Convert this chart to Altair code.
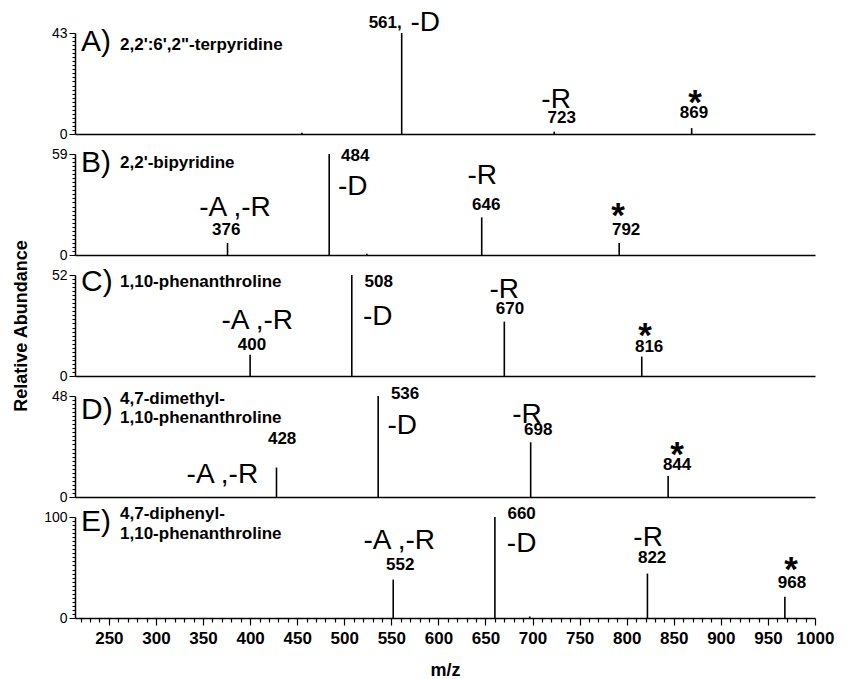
import altair as alt
import pandas as pd

FONT = "Liberation Sans"

mz_range = [214, 1000]
panel_ids = ["A)", "B)", "C)", "D)", "E)"]
panel_names = [
    ["2,2':6',2\"-terpyridine"],
    ["2,2'-bipyridine"],
    ["1,10-phenanthroline"],
    ["4,7-dimethyl-", "1,10-phenanthroline"],
    ["4,7-diphenyl-", "1,10-phenanthroline"],
]
panel_max = [43, 59, 52, 48, 100]

# peaks (m/z, relative abundance on each panel's own scale)
peak_mz = [
    [455, 561, 723, 869],
    [376, 484, 524, 646, 792],
    [400, 508, 670, 816],
    [428, 536, 698, 844],
    [552, 660, 697, 822, 968],
]
peak_int = [
    [0.5, 43, 1.0, 2.5],
    [7, 59, 0.8, 22, 7],
    [11, 52, 28, 10],
    [14, 48, 26, 10],
    [38, 100, 1.5, 44, 21],
]

# annotations: text, anchor m/z, anchor abundance, kind
ann_text = [
    ["561,", "-D", "-R", "723", "*", "869"],
    ["484", "-D", "-A ,-R", "376", "-R", "646", "*", "792"],
    ["508", "-D", "-A ,-R", "400", "-R", "670", "*", "816"],
    ["536", "-D", "428", "-A ,-R", "-R", "698", "*", "844"],
    ["660", "-D", "-A ,-R", "552", "-R", "822", "*", "968"],
]
ann_mz = [
    [543.5, 586, 725, 731, 872.6, 871.5],
    [511.6, 509, 384, 374.7, 646.6, 650.8, 790.9, 799.4],
    [536.6, 535.6, 407.6, 402, 670, 676, 819.6, 823.8],
    [564.6, 561.6, 434, 370.5, 694, 706, 853.5, 853.5],
    [688.4, 688.4, 558.4, 559.5, 822.7, 827, 974.5, 975.5],
]
ann_y = [
    [47.3, 47.3, 14.5, 6.8, 16.2, 8.9],
    [57.8, 39.7, 27.5, 14.6, 46, 29.2, 26.9, 14.6],
    [48.4, 30.4, 28.3, 16, 44.3, 34.5, 24.2, 14.9],
    [49, 33.7, 27.6, 10.5, 39, 31.8, 23.3, 15.2],
    [103, 73, 76, 52.5, 79, 59.4, 54.5, 34.7],
]
ann_kind = [
    ["num", "big", "big", "num", "star", "num"],
    ["num", "big", "big", "num", "big", "num", "star", "num"],
    ["num", "big", "big", "num", "big", "num", "star", "num"],
    ["num", "big", "num", "big", "big", "num", "star", "num"],
    ["num", "big", "big", "num", "big", "num", "star", "num"],
]

# layout of the panel label block (pixels inside each panel)
letter_y = [9, 9, 7, 14, 5]
name_y = [[12], [9], [7], [3, 22], [-3, 17]]

W, H = 740, 101


def panel(i):
    m = panel_max[i]
    last = i == 4
    pk = pd.DataFrame({"mz": peak_mz[i], "inten": peak_int[i]})
    pk["zero"] = 0
    an = pd.DataFrame({"text": ann_text[i], "mz": ann_mz[i], "inten": ann_y[i], "kind": ann_kind[i]})

    if last:
        xaxis = alt.Axis(
            values=list(range(220, 1001, 10)),
            format="d",
            labelExpr="datum.value % 50 === 0 && datum.value >= 250 ? datum.label : ''",
            tickSize={"condition": {"test": "datum.value % 50 === 0", "value": 7}, "value": 4},
            tickColor="black", tickWidth=1.2,
            domainColor="black", domainWidth=1.5,
            labelFont=FONT, labelFontSize=17, labelFontWeight="bold", labelColor="black",
            labelPadding=5, labelOverlap=False, labelFlush=False,
            title="m/z", titleFont=FONT, titleFontSize=18, titleFontWeight="bold",
            titleColor="black", titlePadding=15, grid=False,
        )
    else:
        xaxis = alt.Axis(labels=False, ticks=False, title=None, domainColor="black",
                         domainWidth=1.5, grid=False)

    yticks = [m * k / 25 for k in range(26)]
    yaxis_kw = dict(
        values=yticks,
        labelExpr=f"datum.value === 0 ? '0' : (datum.value === {m} ? '{m}' : '')",
        tickSize={"condition": {"test": f"datum.value === 0 || datum.value === {m}", "value": 6}, "value": 3},
        tickColor="black", tickWidth=1,
        domainColor="black", domainWidth=1.5,
        labelFont=FONT, labelFontSize=14, labelColor="black", labelPadding=2,
        labelOverlap=False, labelFlush=False, grid=False,
    )
    if i == 2:
        yaxis = alt.Axis(title="Relative Abundance", titleFont=FONT, titleFontSize=18,
                         titleFontWeight="bold", titleColor="black", titleAngle=270,
                         titleX=-54, titleY=H / 2, titleAlign="center", titleBaseline="middle",
                         **yaxis_kw)
    else:
        yaxis = alt.Axis(title=None, **yaxis_kw)

    x = alt.X("mz:Q", scale=alt.Scale(domain=mz_range, nice=False, zero=False), axis=xaxis)
    y = alt.Y("inten:Q", scale=alt.Scale(domain=[0, m], nice=False, zero=True), axis=yaxis)

    rules = alt.Chart(pk).mark_rule(color="black", strokeWidth=1.6).encode(
        x=x, y=y, y2="zero:Q")

    nums = alt.Chart(an[an.kind == "num"]).mark_text(
        font=FONT, fontSize=17, fontWeight="bold", color="black", baseline="middle", clip=False
    ).encode(x=x, y=y, text="text:N")
    bigs = alt.Chart(an[an.kind == "big"]).mark_text(
        font=FONT, fontSize=28, color="black", baseline="middle", clip=False
    ).encode(x=x, y=y, text="text:N")
    stars = alt.Chart(an[an.kind == "star"]).mark_text(
        font=FONT, fontSize=35, fontWeight="bold", color="black", baseline="middle", dy=7, clip=False
    ).encode(x=x, y=y, text="text:N")

    letter = alt.Chart(pd.DataFrame({"t": [panel_ids[i]]})).mark_text(
        font=FONT, fontSize=30, color="black", align="left", baseline="middle"
    ).encode(text="t:N", x=alt.value(6), y=alt.value(letter_y[i]))

    names = []
    for line, yy in zip(panel_names[i], name_y[i]):
        names.append(alt.Chart(pd.DataFrame({"t": [line]})).mark_text(
            font=FONT, fontSize=17, fontWeight="bold", color="black", align="left", baseline="middle"
        ).encode(text="t:N", x=alt.value(45), y=alt.value(yy)))

    return alt.layer(rules, nums, bigs, stars, letter, *names).properties(width=W, height=H)


chart = alt.vconcat(*[panel(i) for i in range(5)], spacing=20, bounds="flush").properties(
    padding={"left": 11, "top": 8, "right": 5, "bottom": 5},
    background="white",
).configure_view(stroke=None)

chart.save("out.html", embed_options={"renderer": "svg", "actions": False})
